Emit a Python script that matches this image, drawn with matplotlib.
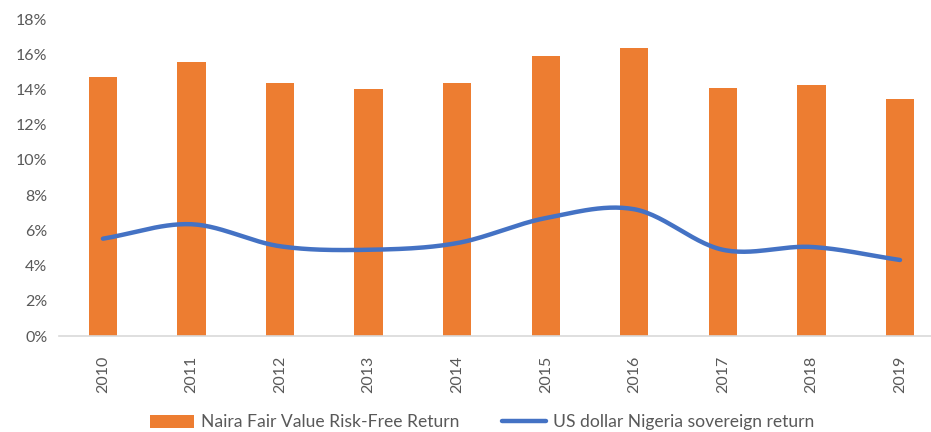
import numpy as np
import matplotlib
matplotlib.use("Agg")
import matplotlib.pyplot as plt
from matplotlib.ticker import PercentFormatter

years = ["2010", "2011", "2012", "2013", "2014", "2015", "2016", "2017", "2018", "2019"]
naira_rf = [14.7, 15.55, 14.37, 14.0, 14.37, 15.9, 16.36, 14.1, 14.26, 13.47]
usd_sov = [5.53, 6.35, 5.1, 4.9, 5.28, 6.7, 7.2, 4.9, 5.06, 4.32]

ORANGE = "#ED7D31"
BLUE = "#4472C4"
GREY = "#595959"

plt.rcParams["font.family"] = ["Lato", "DejaVu Sans"]


def smooth(x, y, n=30):
    # Catmull-Rom style curve through the points, like Excel's smoothed line
    x = np.asarray(x, float)
    y = np.asarray(y, float)
    px = np.concatenate([[2 * x[0] - x[1]], x, [2 * x[-1] - x[-2]]])
    py = np.concatenate([[2 * y[0] - y[1]], y, [2 * y[-1] - y[-2]]])
    xs, ys = [], []
    t = np.linspace(0, 1, n)
    for i in range(1, len(px) - 2):
        for p, out in ((px, xs), (py, ys)):
            p0, p1, p2, p3 = p[i - 1], p[i], p[i + 1], p[i + 2]
            out.append(0.5 * (2 * p1 + (-p0 + p2) * t
                              + (2 * p0 - 5 * p1 + 4 * p2 - p3) * t ** 2
                              + (-p0 + 3 * p1 - 3 * p2 + p3) * t ** 3))
    return np.concatenate(xs), np.concatenate(ys)


fig = plt.figure(figsize=(9.31, 4.32), dpi=100)
ax = fig.add_axes([0.063, 0.222, 0.937, 0.734])

x = np.arange(len(years))
bars = ax.bar(x, naira_rf, width=0.32, color=ORANGE, zorder=2)
sx, sy = smooth(x, usd_sov)
line, = ax.plot(sx, sy, color=BLUE, lw=3.2, solid_capstyle="round", zorder=3)

ax.set_ylim(0, 18)
ax.set_yticks(np.arange(0, 19, 2))
ax.yaxis.set_major_formatter(PercentFormatter(decimals=0))
ax.set_xlim(-0.5, 9.35)
ax.set_xticks(x)
ax.set_xticklabels(years, rotation=90)

for side in ("top", "right", "left"):
    ax.spines[side].set_visible(False)
ax.spines["bottom"].set_color("#D9D9D9")
ax.spines["bottom"].set_linewidth(1.2)
ax.tick_params(axis="both", length=0, colors=GREY, labelsize=11.5)
ax.tick_params(axis="x", pad=14)
ax.tick_params(axis="y", pad=8)

fig.legend([bars, line],
           ["Naira Fair Value Risk-Free Return", "US dollar Nigeria sovereign return"],
           loc="center", bbox_to_anchor=(0.518, 0.022), ncol=2, frameon=False,
           fontsize=12.6, labelcolor=GREY, handlelength=2.5, handleheight=0.75,
           columnspacing=2.4, handletextpad=0.45)

fig.savefig("out.png", dpi=100)
